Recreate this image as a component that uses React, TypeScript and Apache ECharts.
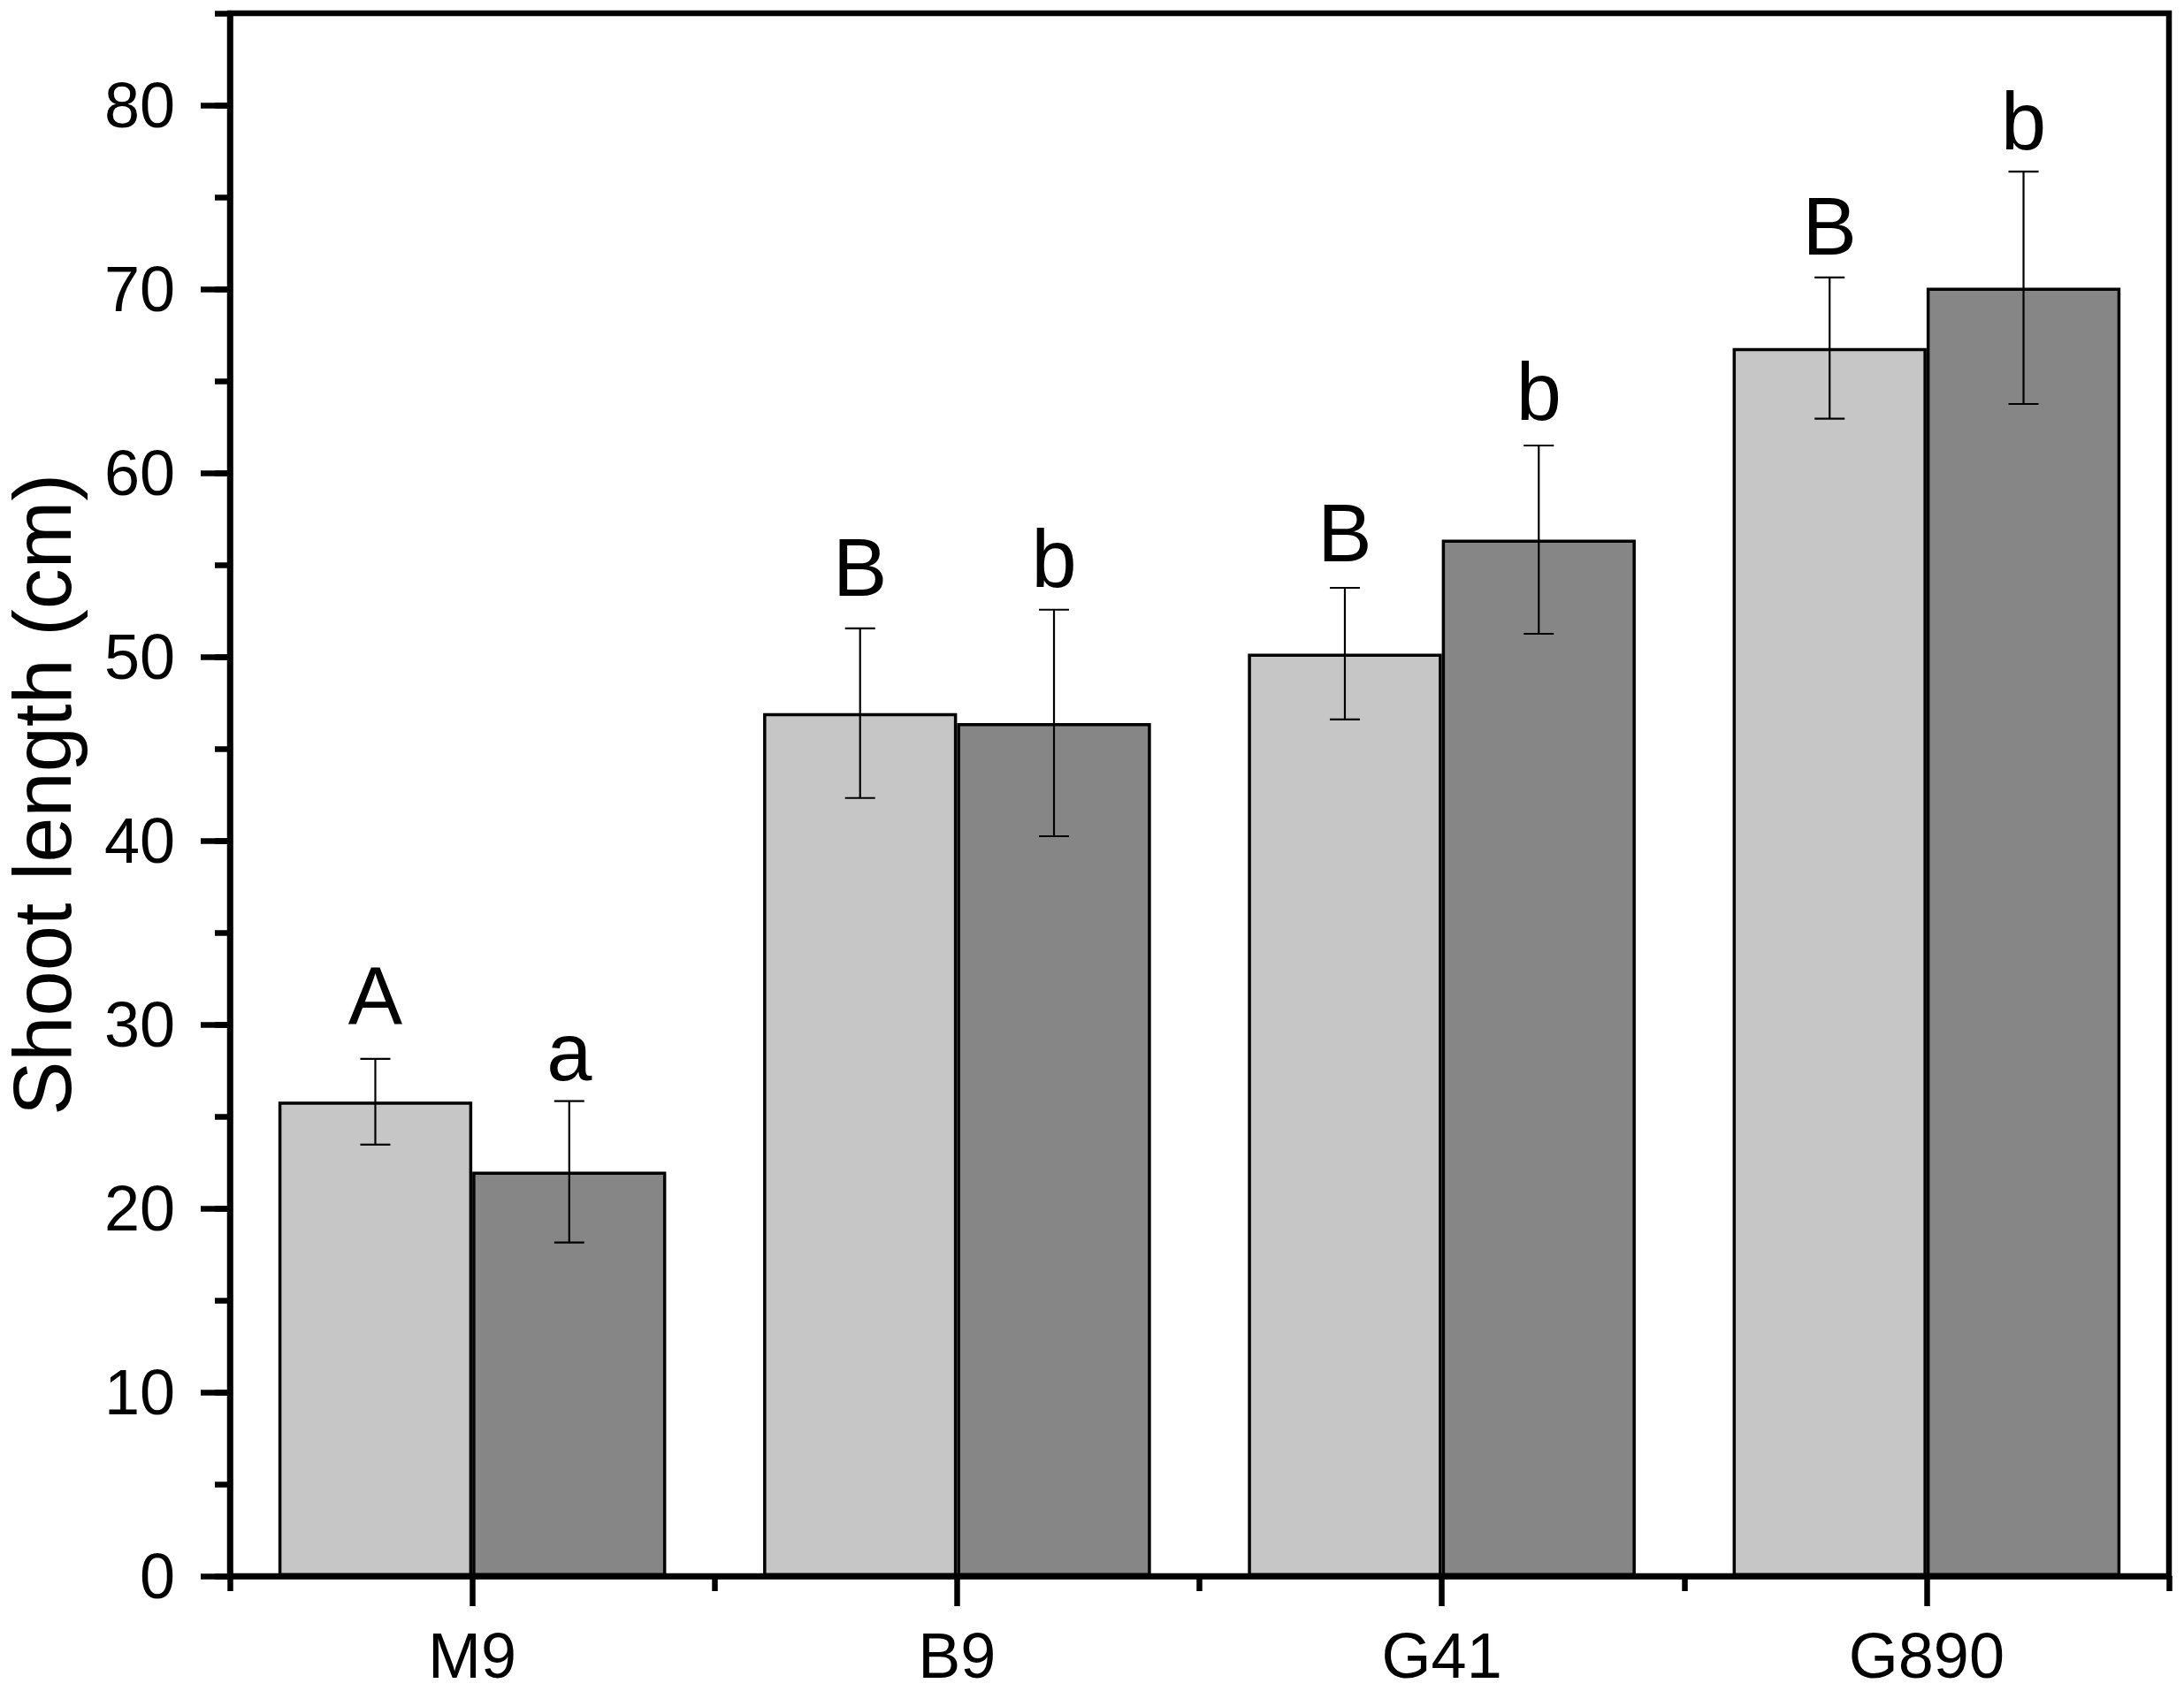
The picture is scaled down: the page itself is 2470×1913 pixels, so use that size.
import React, { useEffect, useRef } from "react";
import * as echarts from "echarts";

const categories = ["M9", "B9", "G41", "G890"];
const lightMean = [25.8, 46.93, 50.17, 66.79];
const lightErr = [2.33, 4.61, 3.58, 3.84];
const darkMean = [21.99, 46.4, 56.37, 70.07];
const darkErr = [3.85, 6.16, 5.12, 6.32];
const lightLetters = ["A", "B", "B", "B"];
const darkLetters = ["a", "b", "b", "b"];
const lightLetterBase = [30.0, 53.3, 55.2, 71.9];
const darkLetterBase = [27.0, 53.8, 62.9, 77.6];
const yTicks = [0, 10, 20, 30, 40, 50, 60, 70, 80];
const yName = "Shoot length (cm)";

const FONT = "'Liberation Sans', Arial, sans-serif";
const AXW = 6.5;
const LETTER_SIZE = 92;

function errSeries(means: number[], errs: number[], sign: number) {
  return {
    type: "custom",
    xAxisIndex: 0,
    yAxisIndex: 0,
    z: 5,
    silent: true,
    data: means.map((m, i) => [i, m, errs[i]]),
    encode: { x: 0, y: 1 },
    renderItem: (params: any, api: any) => {
      const i = api.value(0);
      const m = api.value(1);
      const e = api.value(2);
      const band = api.size([1, 0])[0];
      const cx = api.coord([i, m])[0] + sign * 0.2 * band;
      const yt = api.coord([i, m + e])[1];
      const yb = api.coord([i, m - e])[1];
      const half = 17;
      const st = { stroke: "#000", lineWidth: 2.2 };
      return {
        type: "group",
        children: [
          { type: "line", shape: { x1: cx, y1: yt, x2: cx, y2: yb }, style: st },
          { type: "line", shape: { x1: cx - half, y1: yt, x2: cx + half, y2: yt }, style: st },
          { type: "line", shape: { x1: cx - half, y1: yb, x2: cx + half, y2: yb }, style: st },
        ],
      };
    },
  };
}

function letterSeries(bases: number[], letters: string[], sign: number) {
  return {
    type: "custom",
    xAxisIndex: 0,
    yAxisIndex: 0,
    z: 6,
    silent: true,
    data: bases.map((b, i) => [i, b]),
    encode: { x: 0, y: 1 },
    renderItem: (params: any, api: any) => {
      const i = api.value(0);
      const b = api.value(1);
      const band = api.size([1, 0])[0];
      const p = api.coord([i, b]);
      const cx = p[0] + sign * 0.2 * band;
      return {
        type: "text",
        x: cx,
        y: p[1] - 0.3465 * LETTER_SIZE,
        style: {
          text: letters[params.dataIndex],
          fontSize: LETTER_SIZE,
          fontFamily: FONT,
          fill: "#000",
          align: "center",
          verticalAlign: "middle",
        },
      };
    },
  };
}

export default function App() {
  const ref = useRef<HTMLDivElement>(null);
  useEffect(() => {
    if (!ref.current) return;
    const chart = echarts.init(ref.current, undefined, { renderer: "svg" });
    const line = { color: "#000", width: AXW };
    chart.setOption({
      animation: false,
      backgroundColor: "#fff",
      grid: {
        left: 260,
        top: 15,
        right: 17,
        bottom: 130,
        containLabel: false,
        outerBoundsMode: "none",
        show: true,
        borderColor: "#000",
        borderWidth: AXW,
        backgroundColor: "transparent",
      },
      xAxis: [
        {
          type: "category",
          data: categories,
          position: "bottom",
          axisLine: { show: true, lineStyle: line },
          axisTick: { show: true, alignWithLabel: true, interval: 0, length: 34, lineStyle: line },
          axisLabel: { fontSize: 72, fontFamily: FONT, color: "#000", margin: 54, interval: 0 },
          splitLine: { show: false },
        },
        {
          type: "category",
          data: categories,
          position: "bottom",
          axisLine: { show: false },
          axisTick: { show: true, interval: 0, length: 17, lineStyle: line },
          axisLabel: { show: false },
          splitLine: { show: false },
        },
      ],
      yAxis: [
        {
          type: "value",
          min: 0,
          max: 85,
          interval: 10,
          position: "left",
          axisLine: { show: true, lineStyle: line },
          axisTick: { show: true, length: 33, lineStyle: line, customValues: yTicks },
          axisLabel: {
            fontSize: 72,
            fontFamily: FONT,
            color: "#000",
            margin: 62,
            customValues: yTicks,
          },
          splitLine: { show: false },
          name: yName,
          nameLocation: "middle",
          nameGap: 166,
          nameTextStyle: { fontSize: 92, fontFamily: FONT, color: "#000" },
        },
        {
          type: "value",
          min: 0,
          max: 85,
          interval: 5,
          position: "left",
          axisLine: { show: false },
          axisTick: { show: true, length: 17, lineStyle: line },
          axisLabel: { show: false },
          splitLine: { show: false },
        },
      ],
      series: [
        {
          type: "bar",
          xAxisIndex: 0,
          yAxisIndex: 0,
          data: lightMean,
          barWidth: "40%",
          barGap: "0%",
          barCategoryGap: "20%",
          itemStyle: { color: "#c6c6c6", borderColor: "#000", borderWidth: 3.5 },
        },
        {
          type: "bar",
          xAxisIndex: 0,
          yAxisIndex: 0,
          data: darkMean,
          barWidth: "40%",
          barGap: "0%",
          barCategoryGap: "20%",
          itemStyle: { color: "#868686", borderColor: "#000", borderWidth: 3.5 },
        },
        errSeries(lightMean, lightErr, -1),
        errSeries(darkMean, darkErr, 1),
        letterSeries(lightLetterBase, lightLetters, -1),
        letterSeries(darkLetterBase, darkLetters, 1),
      ],
    });
    return () => chart.dispose();
  }, []);
  return (
    <div
      ref={ref}
      style={{ position: "absolute", left: 0, top: 0, width: 2470, height: 1913, background: "#fff" }}
    />
  );
}
